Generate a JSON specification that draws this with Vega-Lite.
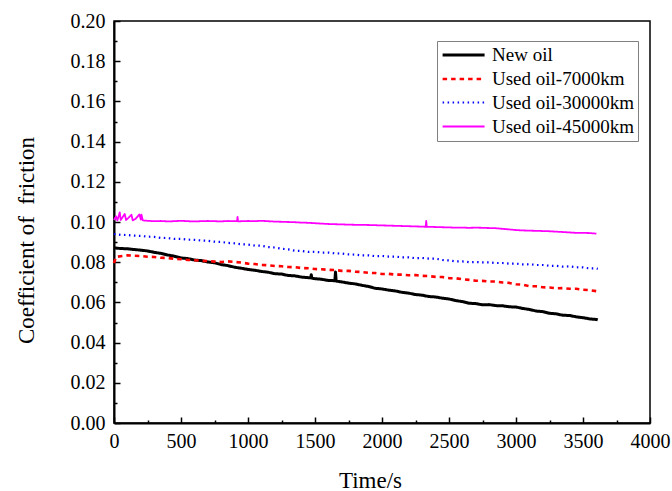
{
 "$schema": "https://vega.github.io/schema/vega-lite/v6.json",
 "width": 536, "height": 402,
 "autosize": {"type": "none"},
 "padding": {"left": 114, "top": 21, "right": 22, "bottom": 68},
 "background": "white",
 "config": {
  "view": {"stroke": "black", "strokeWidth": 1.5},
  "font": "Liberation Serif",
  "axis": {"domainColor": "black", "domainWidth": 2, "tickColor": "black", "tickWidth": 1.5, "labelColor": "black", "labelFont": "Liberation Serif", "labelFontSize": 20, "titleFont": "Liberation Serif", "titleFontSize": 23, "titleFontWeight": "normal", "titleColor": "black", "grid": false},
  "legend": {"orient": "none", "legendX": 323, "legendY": 20, "strokeColor": "#808080", "strokeWidth": 1, "fillColor": "white", "padding": 4, "symbolType": "M-1,0H4", "symbolSize": 282, "symbolStrokeWidth": 1.5, "symbolFillColor": "transparent", "labelFont": "Liberation Serif", "labelFontSize": 19, "labelColor": "black", "labelOffset": 31, "rowPadding": 4, "title": null}
 },
 "data": {"values": [
  {"s":"n","t":0,"v":0.0871},{"s":"n","t":50,"v":0.0868},{"s":"n","t":100,"v":0.0867},{"s":"n","t":150,"v":0.0863},{"s":"n","t":200,"v":0.0860},{"s":"n","t":250,"v":0.0856},{"s":"n","t":300,"v":0.0849},{"s":"n","t":350,"v":0.0844},{"s":"n","t":400,"v":0.0836},{"s":"n","t":450,"v":0.0830},{"s":"n","t":500,"v":0.0821},{"s":"n","t":550,"v":0.0818},{"s":"n","t":600,"v":0.0811},{"s":"n","t":650,"v":0.0808},{"s":"n","t":700,"v":0.0801},{"s":"n","t":750,"v":0.0797},{"s":"n","t":800,"v":0.0788},{"s":"n","t":850,"v":0.0783},{"s":"n","t":900,"v":0.0775},{"s":"n","t":950,"v":0.0770},{"s":"n","t":1000,"v":0.0764},{"s":"n","t":1050,"v":0.0760},{"s":"n","t":1100,"v":0.0754},{"s":"n","t":1150,"v":0.0750},{"s":"n","t":1200,"v":0.0743},{"s":"n","t":1250,"v":0.0741},{"s":"n","t":1300,"v":0.0734},{"s":"n","t":1350,"v":0.0732},{"s":"n","t":1400,"v":0.0726},{"s":"n","t":1450,"v":0.0723},{"s":"n","t":1468,"v":0.0722},{"s":"n","t":1472,"v":0.0738},{"s":"n","t":1476,"v":0.0721},{"s":"n","t":1500,"v":0.0718},{"s":"n","t":1550,"v":0.0715},{"s":"n","t":1600,"v":0.0709},{"s":"n","t":1648,"v":0.0708},{"s":"n","t":1653,"v":0.0751},{"s":"n","t":1658,"v":0.0706},{"s":"n","t":1700,"v":0.0702},{"s":"n","t":1750,"v":0.0696},{"s":"n","t":1800,"v":0.0692},{"s":"n","t":1850,"v":0.0685},{"s":"n","t":1900,"v":0.0679},{"s":"n","t":1950,"v":0.0670},{"s":"n","t":2000,"v":0.0667},{"s":"n","t":2050,"v":0.0661},{"s":"n","t":2100,"v":0.0657},{"s":"n","t":2150,"v":0.0650},{"s":"n","t":2200,"v":0.0646},{"s":"n","t":2250,"v":0.0639},{"s":"n","t":2300,"v":0.0636},{"s":"n","t":2350,"v":0.0629},{"s":"n","t":2400,"v":0.0627},{"s":"n","t":2450,"v":0.0621},{"s":"n","t":2500,"v":0.0617},{"s":"n","t":2550,"v":0.0609},{"s":"n","t":2600,"v":0.0604},{"s":"n","t":2650,"v":0.0596},{"s":"n","t":2700,"v":0.0594},{"s":"n","t":2750,"v":0.0588},{"s":"n","t":2800,"v":0.0589},{"s":"n","t":2850,"v":0.0584},{"s":"n","t":2900,"v":0.0583},{"s":"n","t":2950,"v":0.0578},{"s":"n","t":3000,"v":0.0577},{"s":"n","t":3050,"v":0.0570},{"s":"n","t":3100,"v":0.0565},{"s":"n","t":3150,"v":0.0557},{"s":"n","t":3200,"v":0.0554},{"s":"n","t":3250,"v":0.0546},{"s":"n","t":3300,"v":0.0543},{"s":"n","t":3350,"v":0.0536},{"s":"n","t":3400,"v":0.0535},{"s":"n","t":3450,"v":0.0528},{"s":"n","t":3500,"v":0.0524},{"s":"n","t":3550,"v":0.0518},{"s":"n","t":3600,"v":0.0515},{"s":"n","t":3610,"v":0.0513},
  {"s":"r","t":0,"v":0.0795},{"s":"r","t":15,"v":0.0826},{"s":"r","t":50,"v":0.0830},{"s":"r","t":100,"v":0.0834},{"s":"r","t":150,"v":0.0832},{"s":"r","t":200,"v":0.0831},{"s":"r","t":250,"v":0.0827},{"s":"r","t":300,"v":0.0826},{"s":"r","t":350,"v":0.0822},{"s":"r","t":400,"v":0.0821},{"s":"r","t":450,"v":0.0817},{"s":"r","t":500,"v":0.0815},{"s":"r","t":550,"v":0.0811},{"s":"r","t":600,"v":0.0810},{"s":"r","t":650,"v":0.0807},{"s":"r","t":700,"v":0.0806},{"s":"r","t":750,"v":0.0803},{"s":"r","t":800,"v":0.0801},{"s":"r","t":850,"v":0.0804},{"s":"r","t":900,"v":0.0801},{"s":"r","t":950,"v":0.0798},{"s":"r","t":1000,"v":0.0793},{"s":"r","t":1050,"v":0.0791},{"s":"r","t":1100,"v":0.0786},{"s":"r","t":1150,"v":0.0785},{"s":"r","t":1200,"v":0.0781},{"s":"r","t":1250,"v":0.0780},{"s":"r","t":1300,"v":0.0776},{"s":"r","t":1350,"v":0.0775},{"s":"r","t":1400,"v":0.0771},{"s":"r","t":1450,"v":0.0770},{"s":"r","t":1500,"v":0.0766},{"s":"r","t":1550,"v":0.0765},{"s":"r","t":1600,"v":0.0762},{"s":"r","t":1650,"v":0.0761},{"s":"r","t":1700,"v":0.0757},{"s":"r","t":1750,"v":0.0757},{"s":"r","t":1800,"v":0.0753},{"s":"r","t":1850,"v":0.0751},{"s":"r","t":1900,"v":0.0747},{"s":"r","t":1950,"v":0.0746},{"s":"r","t":2000,"v":0.0741},{"s":"r","t":2050,"v":0.0742},{"s":"r","t":2100,"v":0.0738},{"s":"r","t":2150,"v":0.0738},{"s":"r","t":2200,"v":0.0735},{"s":"r","t":2250,"v":0.0736},{"s":"r","t":2300,"v":0.0732},{"s":"r","t":2350,"v":0.0731},{"s":"r","t":2400,"v":0.0727},{"s":"r","t":2450,"v":0.0726},{"s":"r","t":2500,"v":0.0721},{"s":"r","t":2550,"v":0.0720},{"s":"r","t":2600,"v":0.0715},{"s":"r","t":2650,"v":0.0712},{"s":"r","t":2700,"v":0.0708},{"s":"r","t":2750,"v":0.0707},{"s":"r","t":2800,"v":0.0704},{"s":"r","t":2850,"v":0.0704},{"s":"r","t":2900,"v":0.0699},{"s":"r","t":2950,"v":0.0697},{"s":"r","t":3000,"v":0.0690},{"s":"r","t":3050,"v":0.0688},{"s":"r","t":3100,"v":0.0681},{"s":"r","t":3150,"v":0.0680},{"s":"r","t":3200,"v":0.0675},{"s":"r","t":3250,"v":0.0674},{"s":"r","t":3300,"v":0.0670},{"s":"r","t":3350,"v":0.0671},{"s":"r","t":3400,"v":0.0668},{"s":"r","t":3450,"v":0.0668},{"s":"r","t":3500,"v":0.0663},{"s":"r","t":3550,"v":0.0661},{"s":"r","t":3600,"v":0.0656},{"s":"r","t":3610,"v":0.0655},
  {"s":"b","t":0,"v":0.0940},{"s":"b","t":50,"v":0.0936},{"s":"b","t":100,"v":0.0935},{"s":"b","t":150,"v":0.0932},{"s":"b","t":200,"v":0.0931},{"s":"b","t":250,"v":0.0927},{"s":"b","t":300,"v":0.0926},{"s":"b","t":350,"v":0.0921},{"s":"b","t":400,"v":0.0920},{"s":"b","t":450,"v":0.0916},{"s":"b","t":500,"v":0.0916},{"s":"b","t":550,"v":0.0912},{"s":"b","t":600,"v":0.0911},{"s":"b","t":650,"v":0.0908},{"s":"b","t":700,"v":0.0907},{"s":"b","t":750,"v":0.0902},{"s":"b","t":800,"v":0.0901},{"s":"b","t":850,"v":0.0896},{"s":"b","t":900,"v":0.0894},{"s":"b","t":950,"v":0.0889},{"s":"b","t":1000,"v":0.0888},{"s":"b","t":1050,"v":0.0883},{"s":"b","t":1100,"v":0.0882},{"s":"b","t":1150,"v":0.0875},{"s":"b","t":1200,"v":0.0873},{"s":"b","t":1250,"v":0.0867},{"s":"b","t":1300,"v":0.0864},{"s":"b","t":1350,"v":0.0857},{"s":"b","t":1400,"v":0.0856},{"s":"b","t":1450,"v":0.0851},{"s":"b","t":1500,"v":0.0852},{"s":"b","t":1550,"v":0.0848},{"s":"b","t":1600,"v":0.0848},{"s":"b","t":1650,"v":0.0844},{"s":"b","t":1700,"v":0.0843},{"s":"b","t":1750,"v":0.0839},{"s":"b","t":1800,"v":0.0838},{"s":"b","t":1850,"v":0.0834},{"s":"b","t":1900,"v":0.0834},{"s":"b","t":1950,"v":0.0830},{"s":"b","t":2000,"v":0.0831},{"s":"b","t":2050,"v":0.0828},{"s":"b","t":2100,"v":0.0828},{"s":"b","t":2150,"v":0.0824},{"s":"b","t":2200,"v":0.0824},{"s":"b","t":2250,"v":0.0820},{"s":"b","t":2300,"v":0.0821},{"s":"b","t":2350,"v":0.0818},{"s":"b","t":2400,"v":0.0818},{"s":"b","t":2450,"v":0.0811},{"s":"b","t":2500,"v":0.0809},{"s":"b","t":2550,"v":0.0804},{"s":"b","t":2600,"v":0.0804},{"s":"b","t":2650,"v":0.0800},{"s":"b","t":2700,"v":0.0801},{"s":"b","t":2750,"v":0.0799},{"s":"b","t":2800,"v":0.0799},{"s":"b","t":2850,"v":0.0796},{"s":"b","t":2900,"v":0.0796},{"s":"b","t":2950,"v":0.0793},{"s":"b","t":3000,"v":0.0793},{"s":"b","t":3050,"v":0.0789},{"s":"b","t":3100,"v":0.0790},{"s":"b","t":3150,"v":0.0786},{"s":"b","t":3200,"v":0.0786},{"s":"b","t":3250,"v":0.0782},{"s":"b","t":3300,"v":0.0782},{"s":"b","t":3350,"v":0.0778},{"s":"b","t":3400,"v":0.0779},{"s":"b","t":3450,"v":0.0775},{"s":"b","t":3500,"v":0.0774},{"s":"b","t":3550,"v":0.0769},{"s":"b","t":3600,"v":0.0769},{"s":"b","t":3610,"v":0.0767},
  {"s":"m","t":0,"v":0.1010},{"s":"m","t":15,"v":0.1028},{"s":"m","t":25,"v":0.1008},{"s":"m","t":43,"v":0.1048},{"s":"m","t":50,"v":0.1010},{"s":"m","t":65,"v":0.1025},{"s":"m","t":80,"v":0.1040},{"s":"m","t":90,"v":0.1010},{"s":"m","t":110,"v":0.1022},{"s":"m","t":130,"v":0.1036},{"s":"m","t":140,"v":0.1008},{"s":"m","t":160,"v":0.1015},{"s":"m","t":190,"v":0.1038},{"s":"m","t":200,"v":0.1012},{"s":"m","t":205,"v":0.1036},{"s":"m","t":215,"v":0.1008},{"s":"m","t":250,"v":0.1006},{"s":"m","t":300,"v":0.1004},{"s":"m","t":350,"v":0.1005},{"s":"m","t":400,"v":0.1003},{"s":"m","t":450,"v":0.1004},{"s":"m","t":500,"v":0.1006},{"s":"m","t":550,"v":0.1004},{"s":"m","t":600,"v":0.1003},{"s":"m","t":650,"v":0.1004},{"s":"m","t":700,"v":0.1005},{"s":"m","t":750,"v":0.1004},{"s":"m","t":800,"v":0.1003},{"s":"m","t":850,"v":0.1005},{"s":"m","t":900,"v":0.1004},{"s":"m","t":918,"v":0.1004},{"s":"m","t":922,"v":0.1025},{"s":"m","t":926,"v":0.1003},{"s":"m","t":950,"v":0.1004},{"s":"m","t":1000,"v":0.1005},{"s":"m","t":1050,"v":0.1004},{"s":"m","t":1100,"v":0.1006},{"s":"m","t":1150,"v":0.1004},{"s":"m","t":1200,"v":0.1002},{"s":"m","t":1250,"v":0.1001},{"s":"m","t":1300,"v":0.1000},{"s":"m","t":1350,"v":0.0999},{"s":"m","t":1400,"v":0.0997},{"s":"m","t":1450,"v":0.0996},{"s":"m","t":1500,"v":0.0994},{"s":"m","t":1550,"v":0.0992},{"s":"m","t":1600,"v":0.0990},{"s":"m","t":1650,"v":0.0989},{"s":"m","t":1700,"v":0.0988},{"s":"m","t":1750,"v":0.0987},{"s":"m","t":1800,"v":0.0986},{"s":"m","t":1850,"v":0.0986},{"s":"m","t":1900,"v":0.0985},{"s":"m","t":1950,"v":0.0984},{"s":"m","t":2000,"v":0.0983},{"s":"m","t":2050,"v":0.0982},{"s":"m","t":2100,"v":0.0981},{"s":"m","t":2150,"v":0.0980},{"s":"m","t":2200,"v":0.0979},{"s":"m","t":2250,"v":0.0978},{"s":"m","t":2300,"v":0.0977},{"s":"m","t":2326,"v":0.0976},{"s":"m","t":2330,"v":0.1006},{"s":"m","t":2334,"v":0.0976},{"s":"m","t":2350,"v":0.0976},{"s":"m","t":2400,"v":0.0975},{"s":"m","t":2450,"v":0.0974},{"s":"m","t":2500,"v":0.0973},{"s":"m","t":2550,"v":0.0972},{"s":"m","t":2600,"v":0.0972},{"s":"m","t":2650,"v":0.0971},{"s":"m","t":2700,"v":0.0972},{"s":"m","t":2750,"v":0.0971},{"s":"m","t":2800,"v":0.0970},{"s":"m","t":2850,"v":0.0969},{"s":"m","t":2900,"v":0.0966},{"s":"m","t":2950,"v":0.0963},{"s":"m","t":3000,"v":0.0960},{"s":"m","t":3050,"v":0.0958},{"s":"m","t":3100,"v":0.0957},{"s":"m","t":3150,"v":0.0956},{"s":"m","t":3200,"v":0.0955},{"s":"m","t":3250,"v":0.0954},{"s":"m","t":3300,"v":0.0952},{"s":"m","t":3350,"v":0.0950},{"s":"m","t":3400,"v":0.0948},{"s":"m","t":3450,"v":0.0946},{"s":"m","t":3500,"v":0.0946},{"s":"m","t":3550,"v":0.0945},{"s":"m","t":3600,"v":0.0942}
 ]},
 "mark": {"type": "line", "strokeJoin": "round"},
 "encoding": {
  "x": {"field": "t", "type": "quantitative", "scale": {"domain": [0, 4000], "nice": false},
   "axis": {"title": "Time/s", "values": [0,250,500,750,1000,1250,1500,1750,2000,2250,2500,2750,3000,3250,3500,3750,4000],
    "format": "d", "labelFont": "Liberation Serif", "labelFontSize": 20,
    "labelExpr": "datum.value % 500 === 0 ? datum.label : ''", "labelFlush": false, "labelOverlap": false,
    "tickSize": {"condition": {"test": "datum.value % 500 === 0", "value": -6}, "value": -3},
    "labelPadding": 14, "titleX": 256, "titleY": 64, "titleBaseline": "alphabetic",
    "encode": {"labels": {"update": {"font": {"value": "Liberation Serif"}}}}}},
  "y": {"field": "v", "type": "quantitative", "scale": {"domain": [0, 0.2], "nice": false},
   "axis": {"title": "Coefficient of\u00a0 friction", "values": [0,0.01,0.02,0.03,0.04,0.05,0.06,0.07,0.08,0.09,0.1,0.11,0.12,0.13,0.14,0.15,0.16,0.17,0.18,0.19,0.2],
    "format": ".2f", "labelFont": "Liberation Serif", "labelFontSize": 20,
    "labelExpr": "round(datum.value*100) % 2 === 0 ? datum.label : ''", "labelFlush": false, "labelOverlap": false,
    "tickSize": {"condition": {"test": "round(datum.value*100) % 2 === 0", "value": -6}, "value": -3},
    "labelPadding": 15, "titleX": -81, "titleY": 219, "titleBaseline": "alphabetic",
    "encode": {"labels": {"update": {"font": {"value": "Liberation Serif"}}}}}},
  "color": {"field": "s", "type": "nominal",
   "scale": {"domain": ["n","r","b","m"], "range": ["#000000","#ff0000","#0000ff","#ff00ff"]},
   "legend": {"labelExpr": "{'n':'New oil','r':'Used oil-7000km','b':'Used oil-30000km','m':'Used oil-45000km'}[datum.value]"}},
  "strokeDash": {"field": "s", "type": "nominal",
   "scale": {"domain": ["n","r","b","m"], "range": [[1,0],[4.5,4],[1.5,3.5],[1,0]]},
   "legend": {"labelExpr": "{'n':'New oil','r':'Used oil-7000km','b':'Used oil-30000km','m':'Used oil-45000km'}[datum.value]"}},
  "strokeWidth": {"field": "s", "type": "nominal",
   "scale": {"domain": ["n","r","b","m"], "range": [3,1.8,1.6,2]}, "legend": null}
 }
}
